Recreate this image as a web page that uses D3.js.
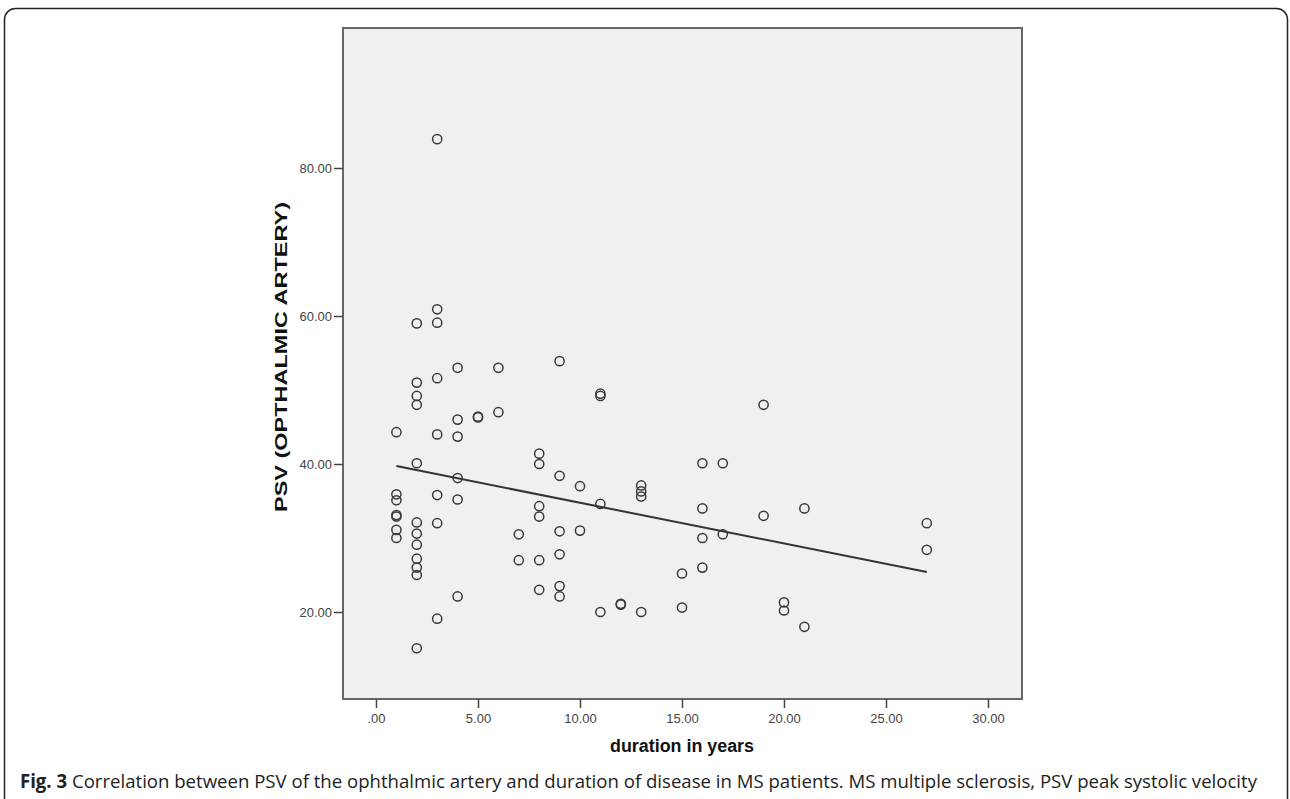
<html>
<head>
<script src="https://cdn.jsdelivr.net/npm/d3@7"></script>
<style>
  body { margin: 0; background: #fff; }
  .tick text { font-family: "Liberation Sans Narrow", "Liberation Sans", Arial, sans-serif; font-size: 13px; fill: #444; }
  .axis-title { font-family: "Liberation Sans", Arial, sans-serif; font-weight: bold; fill: #111; }
  .caption { font-family: "Open Sans", "Noto Sans", sans-serif; font-size: 19px; fill: #222; }
</style>
</head>
<body>
<svg id="chart" width="1290" height="799"></svg>
<script>
// duration in years (x) for each patient, grouped by column
const durations = [
  1,1,1,1,1,1,1,
  2,2,2,2,2,2,2,2,2,2,2,2,
  3,3,3,3,3,3,3,3,
  4,4,4,4,4,4,
  5,5,
  6,6,
  7,7,
  8,8,8,8,8,8,
  9,9,9,9,9,9,
  10,10,
  11,11,11,11,
  12,12,
  13,13,13,13,
  15,15,
  16,16,16,16,
  17,17,
  19,19,
  20,20,
  21,21,
  27,27
];
// PSV of the ophthalmic artery, same order
const psv = [
  44.3,35.9,35.1,33.1,32.9,31.1,30.0,
  59.0,51.0,49.2,48.0,40.1,32.1,30.6,29.1,27.2,26.0,25.0,15.1,
  83.9,60.9,59.1,51.6,44.0,35.8,32.0,19.1,
  53.0,46.0,43.7,38.1,35.2,22.1,
  46.4,46.3,
  53.0,47.0,
  30.5,27.0,
  41.4,40.0,34.3,32.9,27.0,23.0,
  53.9,38.4,30.9,27.8,23.5,22.1,
  37.0,31.0,
  49.5,49.2,34.6,20.0,
  21.1,21.0,
  37.1,36.3,35.6,20.0,
  25.2,20.6,
  40.1,34.0,30.0,26.0,
  40.1,30.5,
  48.0,33.0,
  21.3,20.2,
  34.0,18.0,
  32.0,28.4
];
const xTicks = [0, 5, 10, 15, 20, 25, 30];
const yTicks = [20, 40, 60, 80];

const frame = { left: 343, top: 28, right: 1022, bottom: 699 };

const svg = d3.select("#chart");

// outer rounded box of the figure
svg.append("rect")
  .attr("x", 4.5).attr("y", 8.5)
  .attr("width", 1283).attr("height", 820)
  .attr("rx", 11)
  .attr("fill", "none").attr("stroke", "#222").attr("stroke-width", 1.5);

const xs = d3.scaleLinear().domain([0, 30]).range([376, 988]);
const ys = d3.scaleLinear().domain([20, 80]).range([612, 168]);

// plot area
svg.append("rect")
  .attr("x", frame.left).attr("y", frame.top)
  .attr("width", frame.right - frame.left).attr("height", frame.bottom - frame.top)
  .attr("fill", "#f0f0f0").attr("stroke", "#666").attr("stroke-width", 2);

const fmt = d => d === 0 ? ".00" : d3.format(".2f")(d);

const xAxis = svg.append("g")
  .attr("transform", `translate(0,${frame.bottom})`)
  .call(d3.axisBottom(xs).tickValues(xTicks).tickFormat(fmt).tickSize(9).tickPadding(6));
const yAxis = svg.append("g")
  .attr("transform", `translate(${frame.left},0)`)
  .call(d3.axisLeft(ys).tickValues(yTicks).tickFormat(fmt).tickSize(9).tickPadding(2));
[xAxis, yAxis].forEach(a => {
  a.select(".domain").remove();
  a.selectAll(".tick line").attr("stroke", "#444").attr("stroke-width", 1.5);
});

// points
const pts = durations.map((d, i) => [d, psv[i]]);
svg.append("g").selectAll("circle")
  .data(pts)
  .enter()
  .append("circle")
  .attr("cx", d => xs(d[0]))
  .attr("cy", d => ys(d[1]))
  .attr("r", 4.6)
  .attr("fill", "none")
  .attr("stroke", "#3a3a3a")
  .attr("stroke-width", 1.5);

// least squares fit line
const mx = d3.mean(durations), my = d3.mean(psv);
const sxy = d3.sum(pts, d => (d[0] - mx) * (d[1] - my));
const sxx = d3.sum(pts, d => (d[0] - mx) * (d[0] - mx));
const slope = sxy / sxx, icpt = my - slope * mx;
const x0 = d3.min(durations), x1 = d3.max(durations);
svg.append("line")
  .attr("x1", xs(x0)).attr("y1", ys(icpt + slope * x0))
  .attr("x2", xs(x1)).attr("y2", ys(icpt + slope * x1))
  .attr("stroke", "#333").attr("stroke-width", 2);

// axis titles
svg.append("text")
  .attr("class", "axis-title")
  .attr("x", 682).attr("y", 752)
  .attr("text-anchor", "middle")
  .style("font-size", "18px")
  .attr("textLength", 144).attr("lengthAdjust", "spacingAndGlyphs")
  .text("duration in years");

svg.append("text")
  .attr("class", "axis-title")
  .attr("transform", "translate(287,357) rotate(-90)")
  .attr("text-anchor", "middle")
  .style("font-size", "17px")
  .attr("textLength", 310).attr("lengthAdjust", "spacingAndGlyphs")
  .text("PSV (OPTHALMIC ARTERY)");

// caption
const cap = svg.append("text")
  .attr("class", "caption")
  .attr("x", 20).attr("y", 788)
  .attr("textLength", 1237).attr("lengthAdjust", "spacingAndGlyphs");
cap.append("tspan").style("font-weight", "bold").text("Fig. 3");
cap.append("tspan").text(" Correlation between PSV of the ophthalmic artery and duration of disease in MS patients. MS multiple sclerosis, PSV peak systolic velocity");
</script>
</body>
</html>
